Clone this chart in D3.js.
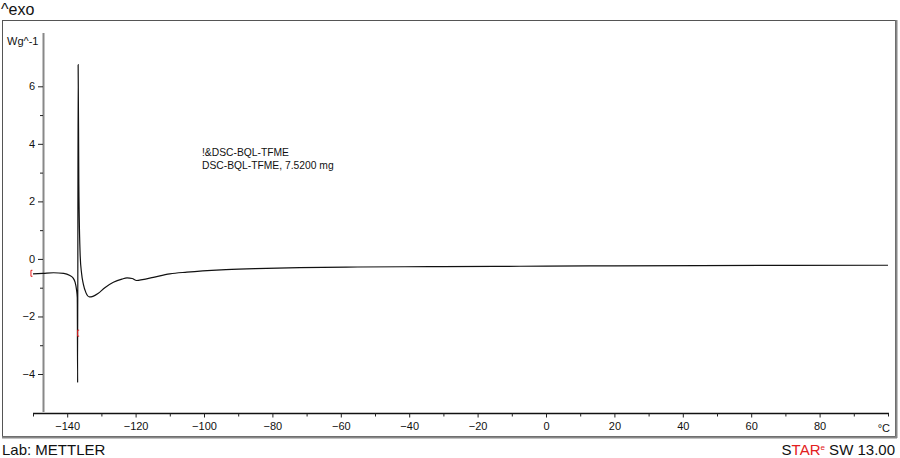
<!DOCTYPE html>
<html>
<head>
<meta charset="utf-8">
<script src="https://d3js.org/d3.v7.min.js"></script>
<style>
  body { margin: 0; background: #fff; }
  svg text { font-family: "Liberation Sans", Arial, sans-serif; fill: #111; }
  .tick text { font-size: 11px; }
  .axis path { display: none; }
  .axis line { stroke: #222; }
</style>
</head>
<body>
<svg id="chart" width="900" height="458"></svg>
<script>
// DSC curve (temperature in °C, heat flow in W/g)
const temps = [-150, -147, -144, -141, -139.2, -138.3, -137.7, -137.3, -137.05, -136.95, -136.8, -136.6,
               -136.2, -135.8, -135.3, -134.5, -133.5, -132.5, -131, -129, -126.5, -124, -122.5, -121,
               -119.7, -118, -114.8, -110, -105, -95, -85, -72, -55, -34, -15, 0, 20, 45, 70, 100]
const heatFlow = [-0.52, -0.5, -0.48, -0.5, -0.58, -0.66, -0.81, -1.05, -1.35, -4.3, 6.75, 2.6,
                  0.1, -0.5, -0.87, -1.18, -1.32, -1.3, -1.2, -1.0, -0.81, -0.7, -0.66, -0.68,
                  -0.75, -0.72, -0.64, -0.52, -0.46, -0.38, -0.34, -0.3, -0.28, -0.27, -0.26, -0.25, -0.24, -0.23, -0.225, -0.22]

const xMajor = [-140, -120, -100, -80, -60, -40, -20, 0, 20, 40, 60, 80]
const xMinor = [-150, -130, -110, -90, -70, -50, -30, -10, 10, 30, 50, 70, 90, 100]
const yMajor = [-4, -2, 0, 2, 4, 6]
const yMinor = [-3, -1, 1, 3, 5]
// red evaluation limit markers
const markT = [-150.6, -136.95]
const markV = [-0.5, -2.58]

const svg = d3.select("#chart")

let xScale = d3.scaleLinear().domain([-150, 100]).range([33, 888])
let yScale = d3.scaleLinear().domain([-4, 6]).range([374, 86.3])

// frame
svg.append("rect").attr("x", 2.5).attr("y", 20.5).attr("width", 893).attr("height", 416)
    .attr("fill", "none").attr("stroke", "#555").attr("stroke-width", 1)
svg.append("line").attr("x1", 896.5).attr("x2", 896.5).attr("y1", 20).attr("y2", 438)
    .attr("stroke", "#888").attr("stroke-width", 2)
svg.append("line").attr("x1", 2).attr("x2", 897).attr("y1", 437.5).attr("y2", 437.5)
    .attr("stroke", "#888").attr("stroke-width", 2)

// x axis
svg.append("line").attr("x1", 33).attr("x2", 889).attr("y1", 413.5).attr("y2", 413.5)
    .attr("stroke", "#111").attr("stroke-width", 1.3)
svg.append("g").attr("class", "axis")
    .attr("transform", "translate(0,413.5)")
    .call(d3.axisBottom(xScale).tickValues(xMajor).tickSize(4).tickPadding(5).tickFormat(d3.format("d")))
svg.append("g").attr("class", "axis")
    .attr("transform", "translate(0,413.5)")
    .call(d3.axisBottom(xScale).tickValues(xMinor).tickSize(3).tickFormat(""))
svg.append("text").attr("x", 890).attr("y", 432).attr("text-anchor", "end")
    .style("font-size", "11px").text("°C")

// y axis
svg.append("line").attr("x1", 43.5).attr("x2", 43.5).attr("y1", 33).attr("y2", 412)
    .attr("stroke", "#888").attr("stroke-width", 2)
svg.append("g").attr("class", "axis")
    .attr("transform", "translate(43,0)")
    .call(d3.axisLeft(yScale).tickValues(yMajor).tickSize(5).tickPadding(3).tickFormat(d3.format("d")))
svg.append("g").attr("class", "axis")
    .attr("transform", "translate(43,0)")
    .call(d3.axisLeft(yScale).tickValues(yMinor).tickSize(3).tickFormat(""))
svg.selectAll(".tick text").attr("fill", "#111")
svg.append("text").attr("x", 7).attr("y", 45).style("font-size", "11px").text("Wg^-1")

// curve
const pts = temps.map((t, i) => [xScale(t), yScale(heatFlow[i])])
svg.append("path")
    .attr("d", d3.line().curve(d3.curveMonotoneX)(pts))
    .attr("fill", "none").attr("stroke", "#111").attr("stroke-width", 1.2)

// red markers
markT.forEach(function (t, i) {
    let mx = xScale(t), my = yScale(markV[i])
    svg.append("path")
        .attr("d", `M${mx + 1.5},${my - 3} L${mx},${my - 3} L${mx},${my + 3} L${mx + 1.5},${my + 3}`)
        .attr("fill", "none").attr("stroke", "#e32020").attr("stroke-width", 1)
})

// curve labels
svg.append("text").attr("x", 202).attr("y", 156).style("font-size", "10.3px").text("!&DSC-BQL-TFME")
svg.append("text").attr("x", 202).attr("y", 169).style("font-size", "10.3px").text("DSC-BQL-TFME, 7.5200 mg")

// header / footer
svg.append("text").attr("x", 1).attr("y", 15).style("font-size", "16px").text("^exo")
svg.append("text").attr("x", 2).attr("y", 455).style("font-size", "15px").text("Lab: METTLER")

let star = svg.append("text").attr("x", 895).attr("y", 455).attr("text-anchor", "end").style("font-size", "15px")
star.append("tspan").text("S")
star.append("tspan").style("fill", "#e32020").text("TAR")
star.append("tspan").style("fill", "#e32020").style("font-size", "8px").attr("dy", -5).text("e")
star.append("tspan").attr("dy", 5).text(" SW 13.00")
</script>
</body>
</html>
